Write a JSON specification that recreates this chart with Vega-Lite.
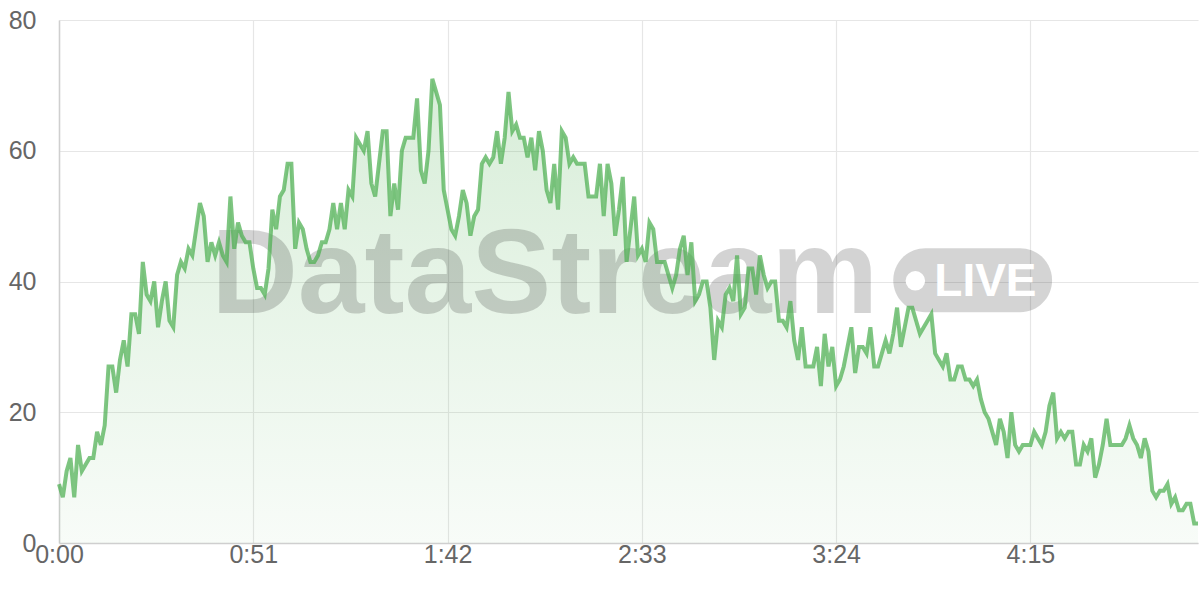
{
  "$schema": "https://vega.github.io/schema/vega-lite/v6.json",
  "width": 1139,
  "height": 523,
  "autosize": {"type": "none"},
  "padding": {"left": 59, "top": 20, "right": 2, "bottom": 57},
  "background": "white",
  "datasets": {
    "stream": [
      {"sec":0,"value":9},{"sec":1,"value":7},{"sec":2,"value":11},{"sec":3,"value":13},{"sec":4,"value":7},{"sec":5,"value":15},{"sec":6,"value":11},{"sec":7,"value":12},{"sec":8,"value":13},{"sec":9,"value":13},
      {"sec":10,"value":17},{"sec":11,"value":15},{"sec":12,"value":18},{"sec":13,"value":27},{"sec":14,"value":27},{"sec":15,"value":23},{"sec":16,"value":28},{"sec":17,"value":31},{"sec":18,"value":27},{"sec":19,"value":35},
      {"sec":20,"value":35},{"sec":21,"value":32},{"sec":22,"value":43},{"sec":23,"value":38},{"sec":24,"value":37},{"sec":25,"value":40},{"sec":26,"value":33},{"sec":27,"value":37},{"sec":28,"value":40},{"sec":29,"value":34},
      {"sec":30,"value":33},{"sec":31,"value":41},{"sec":32,"value":43},{"sec":33,"value":42},{"sec":34,"value":45},{"sec":35,"value":44},{"sec":36,"value":48},{"sec":37,"value":52},{"sec":38,"value":50},{"sec":39,"value":43},
      {"sec":40,"value":46},{"sec":41,"value":44},{"sec":42,"value":46},{"sec":43,"value":44},{"sec":44,"value":43},{"sec":45,"value":53},{"sec":46,"value":45},{"sec":47,"value":49},{"sec":48,"value":47},{"sec":49,"value":46},
      {"sec":50,"value":46},{"sec":51,"value":42},{"sec":52,"value":39},{"sec":53,"value":39},{"sec":54,"value":38},{"sec":55,"value":42},{"sec":56,"value":51},{"sec":57,"value":48},{"sec":58,"value":53},{"sec":59,"value":54},
      {"sec":60,"value":58},{"sec":61,"value":58},{"sec":62,"value":45},{"sec":63,"value":49},{"sec":64,"value":48},{"sec":65,"value":45},{"sec":66,"value":43},{"sec":67,"value":43},{"sec":68,"value":44},{"sec":69,"value":46},
      {"sec":70,"value":46},{"sec":71,"value":48},{"sec":72,"value":52},{"sec":73,"value":48},{"sec":74,"value":52},{"sec":75,"value":48},{"sec":76,"value":54},{"sec":77,"value":53},{"sec":78,"value":62},{"sec":79,"value":61},
      {"sec":80,"value":60},{"sec":81,"value":63},{"sec":82,"value":55},{"sec":83,"value":53},{"sec":84,"value":58},{"sec":85,"value":63},{"sec":86,"value":63},{"sec":87,"value":50},{"sec":88,"value":55},{"sec":89,"value":51},
      {"sec":90,"value":60},{"sec":91,"value":62},{"sec":92,"value":62},{"sec":93,"value":62},{"sec":94,"value":68},{"sec":95,"value":57},{"sec":96,"value":55},{"sec":97,"value":60},{"sec":98,"value":71},{"sec":99,"value":69},
      {"sec":100,"value":67},{"sec":101,"value":54},{"sec":102,"value":51},{"sec":103,"value":48},{"sec":104,"value":47},{"sec":105,"value":50},{"sec":106,"value":54},{"sec":107,"value":52},{"sec":108,"value":47},{"sec":109,"value":50},
      {"sec":110,"value":51},{"sec":111,"value":58},{"sec":112,"value":59},{"sec":113,"value":58},{"sec":114,"value":59},{"sec":115,"value":63},{"sec":116,"value":58},{"sec":117,"value":62},{"sec":118,"value":69},{"sec":119,"value":63},
      {"sec":120,"value":64},{"sec":121,"value":62},{"sec":122,"value":62},{"sec":123,"value":59},{"sec":124,"value":62},{"sec":125,"value":57},{"sec":126,"value":63},{"sec":127,"value":60},{"sec":128,"value":54},{"sec":129,"value":52},
      {"sec":130,"value":58},{"sec":131,"value":51},{"sec":132,"value":63},{"sec":133,"value":62},{"sec":134,"value":58},{"sec":135,"value":59},{"sec":136,"value":58},{"sec":137,"value":58},{"sec":138,"value":58},{"sec":139,"value":53},
      {"sec":140,"value":53},{"sec":141,"value":53},{"sec":142,"value":58},{"sec":143,"value":50},{"sec":144,"value":58},{"sec":145,"value":55},{"sec":146,"value":47},{"sec":147,"value":51},{"sec":148,"value":56},{"sec":149,"value":43},
      {"sec":150,"value":48},{"sec":151,"value":53},{"sec":152,"value":44},{"sec":153,"value":45},{"sec":154,"value":43},{"sec":155,"value":49},{"sec":156,"value":48},{"sec":157,"value":43},{"sec":158,"value":43},{"sec":159,"value":43},
      {"sec":160,"value":41},{"sec":161,"value":39},{"sec":162,"value":41},{"sec":163,"value":45},{"sec":164,"value":47},{"sec":165,"value":41},{"sec":166,"value":46},{"sec":167,"value":37},{"sec":168,"value":38},{"sec":169,"value":40},
      {"sec":170,"value":40},{"sec":171,"value":36},{"sec":172,"value":28},{"sec":173,"value":34},{"sec":174,"value":33},{"sec":175,"value":38},{"sec":176,"value":39},{"sec":177,"value":37},{"sec":178,"value":44},{"sec":179,"value":35},
      {"sec":180,"value":36},{"sec":181,"value":42},{"sec":182,"value":42},{"sec":183,"value":38},{"sec":184,"value":44},{"sec":185,"value":41},{"sec":186,"value":39},{"sec":187,"value":40},{"sec":188,"value":40},{"sec":189,"value":34},
      {"sec":190,"value":34},{"sec":191,"value":33},{"sec":192,"value":37},{"sec":193,"value":31},{"sec":194,"value":28},{"sec":195,"value":33},{"sec":196,"value":27},{"sec":197,"value":27},{"sec":198,"value":27},{"sec":199,"value":30},
      {"sec":200,"value":24},{"sec":201,"value":32},{"sec":202,"value":27},{"sec":203,"value":30},{"sec":204,"value":24},{"sec":205,"value":25},{"sec":206,"value":27},{"sec":207,"value":30},{"sec":208,"value":33},{"sec":209,"value":26},
      {"sec":210,"value":30},{"sec":211,"value":30},{"sec":212,"value":29},{"sec":213,"value":33},{"sec":214,"value":27},{"sec":215,"value":27},{"sec":216,"value":29},{"sec":217,"value":31},{"sec":218,"value":29},{"sec":219,"value":32},
      {"sec":220,"value":36},{"sec":221,"value":30},{"sec":222,"value":33},{"sec":223,"value":36},{"sec":224,"value":36},{"sec":225,"value":34},{"sec":226,"value":32},{"sec":227,"value":33},{"sec":228,"value":34},{"sec":229,"value":35},
      {"sec":230,"value":29},{"sec":231,"value":28},{"sec":232,"value":27},{"sec":233,"value":29},{"sec":234,"value":25},{"sec":235,"value":25},{"sec":236,"value":27},{"sec":237,"value":27},{"sec":238,"value":25},{"sec":239,"value":25},
      {"sec":240,"value":24},{"sec":241,"value":25},{"sec":242,"value":22},{"sec":243,"value":20},{"sec":244,"value":19},{"sec":245,"value":17},{"sec":246,"value":15},{"sec":247,"value":19},{"sec":248,"value":17},{"sec":249,"value":13},
      {"sec":250,"value":20},{"sec":251,"value":15},{"sec":252,"value":14},{"sec":253,"value":15},{"sec":254,"value":15},{"sec":255,"value":15},{"sec":256,"value":17},{"sec":257,"value":16},{"sec":258,"value":15},{"sec":259,"value":17},
      {"sec":260,"value":21},{"sec":261,"value":23},{"sec":262,"value":16},{"sec":263,"value":17},{"sec":264,"value":16},{"sec":265,"value":17},{"sec":266,"value":17},{"sec":267,"value":12},{"sec":268,"value":12},{"sec":269,"value":15},
      {"sec":270,"value":14},{"sec":271,"value":16},{"sec":272,"value":10},{"sec":273,"value":12},{"sec":274,"value":15},{"sec":275,"value":19},{"sec":276,"value":15},{"sec":277,"value":15},{"sec":278,"value":15},{"sec":279,"value":15},
      {"sec":280,"value":16},{"sec":281,"value":18},{"sec":282,"value":16},{"sec":283,"value":15},{"sec":284,"value":13},{"sec":285,"value":16},{"sec":286,"value":14},{"sec":287,"value":8},{"sec":288,"value":7},{"sec":289,"value":8},
      {"sec":290,"value":8},{"sec":291,"value":9},{"sec":292,"value":6},{"sec":293,"value":7},{"sec":294,"value":5},{"sec":295,"value":5},{"sec":296,"value":6},{"sec":297,"value":6},{"sec":298,"value":3},{"sec":299,"value":3}
    ],
    "badge": [{"name": "DataStream"}]
  },
  "layer": [
    {
      "data": {"name": "stream"},
      "mark": {
        "type": "area",
        "color": {
          "gradient": "linear", "x1": 0, "y1": 0, "x2": 0, "y2": 1,
          "stops": [
            {"offset": 0, "color": "rgba(76,175,80,0.22)"},
            {"offset": 1, "color": "rgba(76,175,80,0.04)"}
          ]
        }
      },
      "encoding": {
        "x": {
          "field": "sec", "type": "quantitative",
          "scale": {"domain": [0, 299], "nice": false, "zero": false},
          "axis": {
            "title": null,
            "values": [0, 51, 102, 153, 204, 255],
            "labelExpr": "floor(datum.value / 60) + ':' + (datum.value % 60 < 10 ? '0' : '') + (datum.value % 60)",
            "labelFont": "Liberation Sans", "labelFontSize": 25, "labelColor": "#666",
            "labelBaseline": "middle", "labelPadding": 11, "labelFlush": false,
            "ticks": false,
            "domainColor": "#cfcfcf", "domainWidth": 1.5,
            "gridColor": "#e6e6e6", "gridWidth": 1.2
          }
        },
        "y": {
          "field": "value", "type": "quantitative",
          "scale": {"domain": [0, 80], "nice": false},
          "axis": {
            "title": null,
            "values": [0, 20, 40, 60, 80],
            "labelFont": "Liberation Sans", "labelFontSize": 25, "labelColor": "#666",
            "labelPadding": 23, "labelFlush": false,
            "ticks": false,
            "domainColor": "#cfcfcf", "domainWidth": 1.5,
            "gridColor": "#e6e6e6", "gridWidth": 1.2
          }
        }
      }
    },
    {
      "data": {"name": "badge"},
      "mark": {"type": "text", "font": "Liberation Sans", "fontWeight": "bold", "fontSize": 120, "align": "center", "baseline": "alphabetic", "color": "#000", "opacity": 0.17},
      "encoding": {"x": {"datum": 127.5}, "y": {"datum": 35.2}, "text": {"field": "name"}}
    },
    {
      "data": {"name": "badge"},
      "mark": {"type": "rect", "color": "#000", "opacity": 0.17, "cornerRadius": 32},
      "encoding": {"x": {"datum": 219}, "x2": {"datum": 260.7}, "y": {"datum": 45.1}, "y2": {"datum": 35.3}}
    },
    {
      "data": {"name": "badge"},
      "mark": {"type": "point", "filled": true, "color": "white", "opacity": 1, "size": 380},
      "encoding": {"x": {"datum": 224.8}, "y": {"datum": 40.1}}
    },
    {
      "data": {"name": "badge"},
      "mark": {"type": "text", "text": "LIVE", "font": "Liberation Sans", "fontWeight": "bold", "fontSize": 46, "align": "center", "baseline": "middle", "color": "white"},
      "encoding": {"x": {"datum": 243.2}, "y": {"datum": 40}}
    },
    {
      "data": {"name": "stream"},
      "mark": {"type": "line", "color": "#4caf50", "strokeOpacity": 0.72, "strokeWidth": 4, "strokeJoin": "miter"},
      "encoding": {
        "x": {"field": "sec", "type": "quantitative"},
        "y": {"field": "value", "type": "quantitative"}
      }
    }
  ],
  "config": {"view": {"stroke": null}}
}
